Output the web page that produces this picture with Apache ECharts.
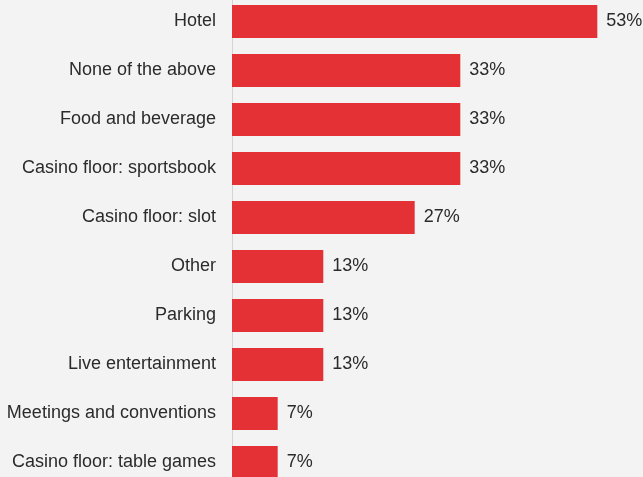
<!DOCTYPE html>
<html><head><meta charset="utf-8">
<script src="https://cdn.jsdelivr.net/npm/echarts@6/dist/echarts.min.js"></script>
<style>html,body{margin:0;padding:0;background:#f3f3f3;}#c{width:643px;height:477px;}</style>
</head><body><div id="c"></div>
<script>
const categories = ["Hotel","None of the above","Food and beverage","Casino floor: sportsbook","Casino floor: slot","Other","Parking","Live entertainment","Meetings and conventions","Casino floor: table games"];
const values = [53.33, 33.33, 33.33, 33.33, 26.67, 13.33, 13.33, 13.33, 6.67, 6.67];
const chart = echarts.init(document.getElementById('c'), null, {renderer:'canvas'});
chart.setOption({
  backgroundColor:'#f3f3f3',
  animation:false,
  grid:{left:232, top:-3, height:490, right:0, containLabel:false, outerBoundsMode:'none'},
  xAxis:{type:'value', min:0, max:60, show:false},
  yAxis:{type:'category', data:categories, inverse:true,
    axisLine:{show:true, lineStyle:{color:'#d4d4d4', width:1}},
    axisTick:{show:false},
    axisLabel:{color:'#2b2b2b', fontSize:18, fontFamily:'Liberation Sans, Arial, sans-serif', margin:16}},
  series:[{type:'bar', data:values, barCategoryGap:'33%',
    itemStyle:{color:'#e33136'},
    label:{show:true, position:'right', distance:9, color:'#2b2b2b', fontSize:18, fontFamily:'Liberation Sans, Arial, sans-serif',
      formatter:p=>Math.round(p.value)+'%'}}]
});
</script></body></html>
